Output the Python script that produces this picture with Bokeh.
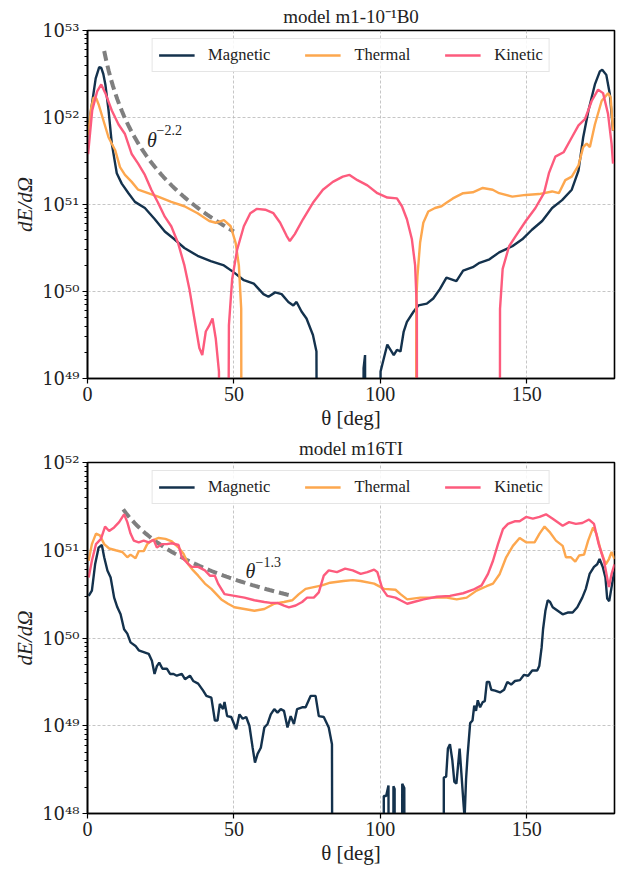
import numpy as np
from bokeh.plotting import figure
from bokeh.layouts import column
from bokeh.models import (Range1d, FixedTicker, CustomJSTickFormatter, Legend,
                          LegendItem, Label)
from bokeh.embed import file_html
from bokeh.resources import INLINE

FONT = "Liberation Serif"
TICKFONT = "DejaVu Serif"
COL_MAG = "#14324d"
COL_TH = "#fda74e"
COL_KIN = "#fd5b7d"
COL_FIT = "#7f7f7f"
FLOOR = 1e40  # stands for zero energy (below the axis)

# ---------------- data: top panel (model m1-10^-1 B0), log10(dE/dOmega) -------------
top_mag_theta = [0.2, 1.5, 2.8, 4.0, 4.7, 5.4, 6.1, 7.2, 8.3, 10.0,
                 11.7, 14.0, 16.2, 19.6, 23.0, 26.4, 29.7, 33.1, 37.6, 42.1,
                 46.6, 50.0, 53.4, 56.8, 60.1, 61.8, 64.1, 66.3, 68.6, 70.3,
                 71.4, 73.1, 74.8, 77.0, 78.2, 79.1, 93.9, 94.3, 94.8, 95.4,
                 99.8, 100.1, 101.2, 102.4, 103.5, 104.6, 105.7, 106.9, 108.0, 109.1,
                 111.4, 113.0, 115.9, 118.1, 120.4, 122.6, 124.3, 126.0, 128.3, 131.6,
                 133.9, 137.3, 140.6, 145.1, 148.5, 151.8, 155.3, 158.7, 162.1, 165.4,
                 167.7, 169.3, 171.1, 173.3, 175.0, 175.8, 177.2, 178.4, 179.5]
top_mag_log = [51.85, 52.15, 52.45, 52.58, 52.57, 52.50, 52.38, 52.08, 51.70, 51.36,
               51.24, 51.13, 51.03, 50.96, 50.83, 50.69, 50.60, 50.50, 50.41, 50.35,
               50.30, 50.22, 50.13, 50.09, 49.97, 49.94, 49.99, 49.97, 49.88, 49.84,
               49.88, 49.77, 49.69, 49.50, 49.31, None, None, 49.12, 49.27, None,
               None, 49.08, 49.23, 49.39, 49.33, 49.27, 49.33, 49.31, 49.54, 49.65,
               49.77, 49.84, 49.86, 49.92, 50.03, 50.16, 50.14, 50.12, 50.24, 50.28,
               50.33, 50.37, 50.45, 50.52, 50.60, 50.71, 50.81, 50.96, 51.05, 51.17,
               51.39, 51.77, 52.08, 52.38, 52.53, 52.55, 52.49, 52.27, 51.85]

top_th_theta = [0.2, 1.2, 2.1, 3.0, 3.8, 5.5, 7.2, 9.5, 11.1, 12.8,
                15.1, 17.3, 20.7, 24.1, 28.6, 33.1, 37.6, 41.6, 43.8, 46.6,
                48.9, 50.6, 51.7, 52.5, 52.9, 111.9, 112.3, 112.7, 113.6, 114.7,
                116.4, 118.7, 120.9, 122.6, 124.8, 128.3, 131.6, 135.0, 138.4, 140.6,
                145.1, 149.7, 154.2, 158.7, 161.0, 163.2, 165.4, 167.7, 169.3, 170.5,
                171.6, 173.3, 175.6, 177.8, 178.7, 179.5]
top_th_log = [51.80, 52.10, 52.23, 52.22, 52.15, 51.96, 51.77, 51.62, 51.43, 51.34,
              51.26, 51.17, 51.13, 51.09, 51.03, 50.98, 50.90, 50.81, 50.79, 50.82,
              50.75, 50.56, 50.30, 49.80, None, None, 49.90, 50.18, 50.56, 50.79,
              50.92, 50.96, 50.98, 51.02, 51.07, 51.13, 51.14, 51.19, 51.17, 51.13,
              51.09, 51.11, 51.12, 51.15, 51.13, 51.28, 51.32, 51.45, 51.66, 51.70,
              51.66, 51.92, 52.19, 52.28, 52.23, 51.85]

top_kin_theta = [0.2, 1.6, 3.3, 4.7, 6.1, 8.3, 10.6, 12.8, 15.1, 17.3,
                 19.6, 21.8, 24.1, 26.4, 28.6, 30.9, 33.1, 34.8, 36.5, 38.2,
                 39.2, 40.4, 41.6, 42.7, 43.8, 44.9, 45.5, 47.2, 48.3, 49.4,
                 51.1, 53.4, 55.6, 57.9, 60.7, 63.5, 65.8, 68.0, 69.1, 70.8,
                 73.6, 77.0, 80.4, 83.8, 87.2, 89.5, 92.2, 95.6, 99.0, 102.4,
                 105.7, 107.4, 109.1, 110.8, 111.9, 112.5, 112.7, 140.6, 140.9, 141.8,
                 144.0, 146.3, 149.7, 153.0, 155.9, 157.6, 159.8, 162.6, 165.4, 167.7,
                 169.9, 172.2, 174.4, 176.1, 177.8, 179.0, 179.5]
top_kin_log = [51.58, 52.08, 52.30, 52.38, 52.28, 52.08, 51.92, 51.81, 51.58, 51.47,
               51.34, 51.17, 51.02, 50.86, 50.75, 50.56, 50.30, 50.03, 49.69, 49.35,
               49.27, 49.54, 49.61, 49.69, 49.46, 49.08, None, None, 49.61, 50.14,
               50.48, 50.75, 50.90, 50.95, 50.94, 50.90, 50.79, 50.64, 50.58, 50.66,
               50.83, 51.02, 51.17, 51.26, 51.32, 51.34, 51.28, 51.22, 51.13, 51.08,
               51.07, 50.98, 50.83, 50.60, 50.30, 49.80, None, None, 49.80, 50.26,
               50.52, 50.64, 50.81, 50.96, 51.13, 51.36, 51.55, 51.60, 51.77, 51.91,
               51.98, 52.19, 52.32, 52.28, 52.04, 51.70, 51.47]

# ---------------- data: bottom panel (model m16TI), log10(dE/dOmega) -------------
bot_mag_theta = [0.4, 1.5, 2.6, 3.8, 4.9, 5.7, 6.8, 7.9, 9.1, 10.2,
                 11.3, 12.5, 13.6, 14.7, 16.4, 17.5, 19.2, 20.9, 22.0, 22.9,
                 23.7, 24.5, 25.6, 27.1, 28.2, 29.4, 30.5, 32.2, 33.3, 35.0,
                 36.1, 37.8, 39.5, 40.6, 42.3, 43.5, 44.4, 45.2, 46.3, 46.8,
                 47.7, 49.1, 50.8, 51.9, 53.0, 54.2, 55.3, 56.4, 57.2, 58.1,
                 59.2, 60.4, 61.5, 62.6, 63.8, 64.9, 66.0, 67.1, 68.3, 69.4,
                 70.5, 71.6, 73.3, 74.5, 76.2, 77.9, 79.0, 80.7, 82.4, 83.5,
                 84.0, 101.0, 101.2, 102.0, 102.8, 103.2, 104.3, 104.5, 104.9, 105.1,
                 107.4, 107.5, 108.2, 108.9, 121.6, 121.7, 122.5, 123.1, 123.8, 124.6,
                 125.3, 126.0, 127.1, 127.7, 128.5, 128.8, 129.3, 129.8, 130.7, 131.5,
                 132.1, 132.7, 133.3, 134.1, 135.0, 135.7, 136.4, 137.2, 137.9, 139.2,
                 140.9, 142.3, 143.4, 144.7, 146.0, 147.7, 149.1, 150.5, 151.9, 153.6,
                 154.3, 155.1, 155.6, 156.4, 157.2, 158.0, 158.9, 160.6, 162.3, 164.0,
                 165.7, 167.3, 169.0, 170.2, 171.5, 173.0, 174.1, 174.9, 176.0, 176.9,
                 177.5, 178.2, 179.2, 180.0]
bot_mag_log = [50.48, 50.54, 50.84, 51.03, 51.06, 50.92, 50.77, 50.69, 50.46, 50.35,
               50.27, 50.10, 50.05, 49.95, 49.91, 49.86, 49.84, 49.82, 49.74, 49.59,
               49.68, 49.72, 49.65, 49.65, 49.59, 49.59, 49.57, 49.59, 49.53, 49.57,
               49.51, 49.48, 49.40, 49.34, 49.32, 49.06, 49.06, 49.25, 49.19, 49.27,
               49.11, 49.10, 48.96, 49.13, 49.08, 49.10, 49.00, 48.75, 48.58, 48.68,
               48.75, 48.98, 49.02, 49.13, 49.19, 49.15, 49.19, 49.17, 48.98, 49.11,
               49.02, 49.19, 49.21, 49.21, 49.34, 49.34, 49.11, 49.10, 48.98, 48.79,
               None, None, 48.20, 48.20, 48.32, None, None, 48.31, 48.28, None,
               None, 48.34, 48.29, None, None, 48.41, 48.42, 48.74, 48.79, 48.61,
               48.36, 48.34, 48.74, 48.46, 48.08, 47.95, 48.39, 48.65, 49.03, 49.06,
               49.23, 49.17, 49.29, 49.21, 49.27, 49.28, 49.50, 49.50, 49.41, 49.40,
               49.38, 49.41, 49.50, 49.47, 49.51, 49.52, 49.58, 49.57, 49.63, 49.63,
               49.68, 49.89, 50.10, 50.31, 50.43, 50.41, 50.35, 50.31, 50.27, 50.29,
               50.29, 50.35, 50.46, 50.56, 50.73, 50.81, 50.84, 50.90, 50.81, 50.69,
               50.45, 50.42, 50.62, 50.77]

bot_th_theta = [0.4, 1.5, 2.9, 4.2, 5.7, 7.4, 9.6, 11.9, 13.6, 14.7,
                16.4, 17.5, 19.2, 20.4, 22.0, 24.3, 26.6, 28.8, 31.1, 32.8,
                34.4, 36.1, 37.8, 40.1, 42.3, 44.0, 45.7, 48.0, 50.2, 53.6,
                57.0, 60.4, 63.8, 67.1, 69.9, 72.2, 74.5, 77.3, 80.1, 82.9,
                87.4, 90.6, 93.3, 97.9, 101.3, 105.2, 106.9, 109.2, 113.7, 118.2,
                122.7, 126.1, 129.5, 132.9, 136.3, 138.5, 140.8, 143.0, 145.3, 147.6,
                149.8, 152.7, 154.4, 156.1, 157.8, 160.0, 162.3, 163.4, 165.1, 166.6,
                167.9, 169.6, 171.0, 172.7, 173.8, 175.3, 177.0, 178.1, 179.0, 180.0]
bot_th_log = [50.88, 51.07, 51.19, 51.17, 51.07, 51.02, 51.00, 50.98, 50.92, 50.95,
              50.91, 50.99, 50.99, 51.07, 51.11, 51.14, 51.13, 51.10, 51.03, 50.96,
              50.84, 50.77, 50.71, 50.62, 50.56, 50.50, 50.44, 50.39, 50.35, 50.33,
              50.31, 50.33, 50.39, 50.41, 50.43, 50.50, 50.56, 50.58, 50.60, 50.63,
              50.65, 50.66, 50.65, 50.62, 50.56, 50.55, 50.50, 50.44, 50.46, 50.46,
              50.46, 50.44, 50.46, 50.54, 50.59, 50.62, 50.73, 50.92, 51.05, 51.14,
              51.09, 51.09, 51.19, 51.27, 51.21, 51.11, 51.05, 50.92, 50.92, 50.87,
              50.94, 50.95, 51.11, 51.26, 51.19, 51.00, 50.84, 50.90, 50.98, 50.90]

bot_kin_theta = [0.4, 1.5, 2.9, 4.6, 6.0, 7.4, 9.1, 10.8, 12.5, 13.6,
                 14.7, 15.8, 17.5, 19.2, 20.9, 22.6, 23.7, 25.4, 27.1, 28.8,
                 31.1, 32.2, 33.9, 35.6, 37.8, 40.1, 41.8, 43.5, 44.6, 46.8,
                 50.2, 53.6, 57.0, 60.4, 62.6, 64.9, 67.1, 68.8, 71.1, 73.3,
                 75.0, 77.3, 79.0, 80.7, 82.4, 85.2, 88.0, 90.6, 93.3, 95.6,
                 97.9, 99.0, 100.7, 102.4, 105.2, 106.9, 109.2, 111.4, 114.8, 119.3,
                 123.8, 128.3, 131.7, 134.6, 136.8, 138.5, 140.2, 141.9, 143.6, 145.9,
                 147.6, 149.8, 152.1, 154.4, 156.6, 158.9, 162.3, 164.5, 166.8, 169.0,
                 171.3, 173.0, 174.6, 176.4, 178.1, 179.0, 180.0]
bot_kin_log = [50.69, 50.88, 51.07, 51.13, 51.27, 51.22, 51.26, 51.32, 51.41, 51.32,
               51.19, 51.11, 51.09, 51.11, 51.09, 51.12, 51.03, 51.07, 51.07, 51.08,
               51.06, 50.92, 50.86, 50.81, 50.81, 50.77, 50.71, 50.71, 50.62, 50.50,
               50.48, 50.46, 50.43, 50.41, 50.40, 50.40, 50.37, 50.35, 50.37, 50.41,
               50.46, 50.46, 50.52, 50.71, 50.77, 50.75, 50.79, 50.77, 50.73, 50.75,
               50.78, 50.75, 50.56, 50.48, 50.46, 50.43, 50.39, 50.41, 50.44, 50.47,
               50.48, 50.51, 50.55, 50.60, 50.73, 50.88, 51.07, 51.24, 51.30, 51.33,
               51.33, 51.38, 51.36, 51.38, 51.41, 51.36, 51.28, 51.32, 51.30, 51.31,
               51.35, 51.30, 51.07, 50.88, 50.58, 50.73, 50.84]

# power-law guide lines: theta range, exponent, log10 value at the range end
top_fit_range = (5.7, 50.0)
top_fit_index = 2.2
top_fit_endlog = 50.69
bot_fit_range = (12.2, 70.0)
bot_fit_index = 1.3
bot_fit_endlog = 50.48

TICK_JS = """
const e = Math.round(Math.log10(tick));
const m = {"0":"\u2070","1":"\u00b9","2":"\u00b2","3":"\u00b3","4":"\u2074",
           "5":"\u2075","6":"\u2076","7":"\u2077","8":"\u2078","9":"\u2079","-":"\u207b"};
return "10" + String(e).split("").map(c => m[c]).join("");
"""


def to_y(logs):
    return [FLOOR if v is None else 10.0 ** v for v in logs]


def make_panel(title, ylo, yhi, series, fit, note, height, borders):
    top, bottom, left, right = borders
    p = figure(width=628, height=height, x_range=Range1d(0, 180),
               y_range=Range1d(10.0 ** ylo, 10.0 ** yhi), y_axis_type="log",
               output_backend="svg", toolbar_location=None,
               min_border_top=top, min_border_bottom=bottom,
               min_border_left=left, min_border_right=right)
    p.title.text = title
    p.title.align = "center"
    p.title.text_font = FONT
    p.title.text_font_size = "19px"
    p.title.text_font_style = "normal"
    p.title.text_color = "#222222"
    p.title.standoff = 7

    # fit line
    (t0, t1), k, endlog = fit
    tt = np.linspace(t0, t1, 60)
    p.line(tt, 10.0 ** endlog * (tt / t1) ** (-k), line_color=COL_FIT,
           line_width=4, line_dash="10 5")

    items = []
    for name, th, lg, col in series:
        r = p.line(th, to_y(lg), line_color=col, line_width=2.4)
        items.append(LegendItem(label=name, renderers=[r]))

    legend = Legend(items=items, location="top_center", orientation="horizontal",
                    label_text_font=FONT, label_text_font_size="16.5px",
                    label_text_color="#222222",
                    glyph_width=36, glyph_height=16, label_standoff=14,
                    spacing=34, padding=6,
                    margin=8, border_line_color="#cccccc", border_line_width=1,
                    background_fill_alpha=0.85)
    p.add_layout(legend)

    (nx, ny, sx, sy, k_label) = note
    p.add_layout(Label(x=nx, y=ny, text="\u03b8", text_font=FONT,
                       text_font_style="italic", text_font_size="20px",
                       text_color="#222222", text_baseline="alphabetic"))
    p.add_layout(Label(x=sx, y=sy, text=k_label, text_font=FONT,
                       text_font_size="14px", text_color="#222222",
                       text_baseline="alphabetic"))

    yt = [10.0 ** e for e in range(ylo, yhi + 1)]
    ym = [m * 10.0 ** e for e in range(ylo, yhi) for m in range(2, 10)]
    p.yaxis.ticker = FixedTicker(ticks=yt, minor_ticks=ym)
    p.yaxis.formatter = CustomJSTickFormatter(code=TICK_JS)
    p.xaxis.ticker = FixedTicker(ticks=[0, 50, 100, 150])

    for ax in (p.xaxis, p.yaxis):
        ax.axis_line_width = 1.6
        ax.axis_line_color = "black"
        ax.major_tick_in = 0
        ax.major_tick_out = 5
        ax.minor_tick_in = 0
        ax.minor_tick_out = 3
        ax.major_tick_line_width = 1.2
        ax.major_label_text_font = FONT
        ax.major_label_text_font_size = "20px"
        ax.major_label_text_color = "#222222"
        ax.major_label_standoff = 3
        ax.axis_label_text_font = FONT
        ax.axis_label_text_font_size = "21px"
        ax.axis_label_text_color = "#222222"
        ax.axis_label_standoff = 2
    p.yaxis.major_label_text_font = TICKFONT
    p.yaxis.major_label_text_font_size = "18px"
    p.xaxis.minor_tick_line_color = None
    p.xaxis.axis_label = "\u03b8 [deg]"
    p.xaxis.axis_label_text_font_style = "normal"
    p.yaxis.axis_label = "dE/d\u03a9"
    p.yaxis.axis_label_text_font_style = "italic"

    for g in (p.xgrid, p.ygrid):
        g.grid_line_color = "#b8b8b8"
        g.grid_line_dash = "3 2"
        g.grid_line_width = 0.8
    p.outline_line_color = "black"
    p.outline_line_width = 1.6
    p.background_fill_color = "white"
    return p


p1 = make_panel("model m1-10\u207b\u00b9B0", 49, 53,
                [("Magnetic", top_mag_theta, top_mag_log, COL_MAG),
                 ("Thermal", top_th_theta, top_th_log, COL_TH),
                 ("Kinetic", top_kin_theta, top_kin_log, COL_KIN)],
                (top_fit_range, top_fit_index, top_fit_endlog),
                (20.3, 10 ** 51.74, 23.6, 10 ** 51.86, "\u22122.2"),
                432, (27, 53, 87, 10))
p2 = make_panel("model m16TI", 48, 52,
                [("Magnetic", bot_mag_theta, bot_mag_log, COL_MAG),
                 ("Thermal", bot_th_theta, bot_th_log, COL_TH),
                 ("Kinetic", bot_kin_theta, bot_kin_log, COL_KIN)],
                (bot_fit_range, bot_fit_index, bot_fit_endlog),
                (54.0, 10 ** 50.76, 57.4, 10 ** 50.87, "\u22121.3"),
                437, (30, 56, 84, 14))

layout = column(p1, p2, spacing=0)
open("out.html", "w").write(file_html(layout, INLINE))
